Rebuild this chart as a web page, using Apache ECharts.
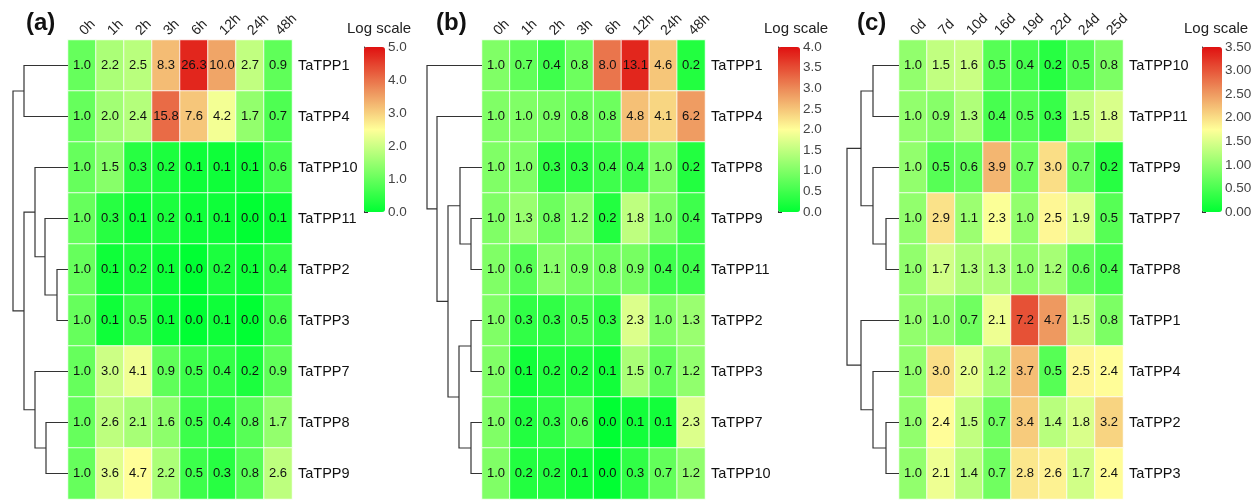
<!DOCTYPE html>
<html>
<head>
<meta charset="utf-8">
<script src="https://cdn.jsdelivr.net/npm/echarts@6/dist/echarts.min.js"></script>
<style>
  html, body { margin: 0; background: #fff; }
  #main { width: 1260px; height: 500px; }
</style>
</head>
<body>
<div id="main"></div>
<script>
// column labels
const hours = ['0h', '1h', '2h', '3h', '6h', '12h', '24h', '48h'];
const days = ['0d', '7d', '10d', '16d', '19d', '22d', '24d', '25d'];

// (a)
const genesA = ['TaTPP1', 'TaTPP4', 'TaTPP10', 'TaTPP11', 'TaTPP2', 'TaTPP3', 'TaTPP7', 'TaTPP8', 'TaTPP9'];
const valuesA = [
  [1.0, 2.2, 2.5, 8.3, 26.3, 10.0, 2.7, 0.9],
  [1.0, 2.0, 2.4, 15.8, 7.6, 4.2, 1.7, 0.7],
  [1.0, 1.5, 0.3, 0.2, 0.1, 0.1, 0.1, 0.6],
  [1.0, 0.3, 0.1, 0.2, 0.1, 0.1, 0.0, 0.1],
  [1.0, 0.1, 0.2, 0.1, 0.0, 0.2, 0.1, 0.4],
  [1.0, 0.1, 0.5, 0.1, 0.0, 0.1, 0.0, 0.6],
  [1.0, 3.0, 4.1, 0.9, 0.5, 0.4, 0.2, 0.9],
  [1.0, 2.6, 2.1, 1.6, 0.5, 0.4, 0.8, 1.7],
  [1.0, 3.6, 4.7, 2.2, 0.5, 0.3, 0.8, 2.6]
];
// merges: [left, right, height]; strings are genes, numbers point at earlier merges
const treeA = [
  ['TaTPP2', 'TaTPP3', 11],
  ['TaTPP11', 0, 23],
  ['TaTPP10', 1, 33],
  ['TaTPP8', 'TaTPP9', 22],
  ['TaTPP7', 3, 33],
  ['TaTPP1', 'TaTPP4', 44],
  [2, 4, 44],
  [5, 6, 55]
];

// (b)
const genesB = ['TaTPP1', 'TaTPP4', 'TaTPP8', 'TaTPP9', 'TaTPP11', 'TaTPP2', 'TaTPP3', 'TaTPP7', 'TaTPP10'];
const valuesB = [
  [1.0, 0.7, 0.4, 0.8, 8.0, 13.1, 4.6, 0.2],
  [1.0, 1.0, 0.9, 0.8, 0.8, 4.8, 4.1, 6.2],
  [1.0, 1.0, 0.3, 0.3, 0.4, 0.4, 1.0, 0.2],
  [1.0, 1.3, 0.8, 1.2, 0.2, 1.8, 1.0, 0.4],
  [1.0, 0.6, 1.1, 0.9, 0.8, 0.9, 0.4, 0.4],
  [1.0, 0.3, 0.3, 0.5, 0.3, 2.3, 1.0, 1.3],
  [1.0, 0.1, 0.2, 0.2, 0.1, 1.5, 0.7, 1.2],
  [1.0, 0.2, 0.3, 0.6, 0.0, 0.1, 0.1, 2.3],
  [1.0, 0.2, 0.2, 0.1, 0.0, 0.3, 0.7, 1.2]
];
const treeB = [
  ['TaTPP9', 'TaTPP11', 11],
  ['TaTPP8', 0, 22],
  ['TaTPP2', 'TaTPP3', 11],
  ['TaTPP7', 'TaTPP10', 11],
  [2, 3, 23],
  [1, 4, 34],
  ['TaTPP4', 5, 45],
  ['TaTPP1', 6, 55]
];

// (c)
const genesC = ['TaTPP10', 'TaTPP11', 'TaTPP9', 'TaTPP7', 'TaTPP8', 'TaTPP1', 'TaTPP4', 'TaTPP2', 'TaTPP3'];
const valuesC = [
  [1.0, 1.5, 1.6, 0.5, 0.4, 0.2, 0.5, 0.8],
  [1.0, 0.9, 1.3, 0.4, 0.5, 0.3, 1.5, 1.8],
  [1.0, 0.5, 0.6, 3.9, 0.7, 3.0, 0.7, 0.2],
  [1.0, 2.9, 1.1, 2.3, 1.0, 2.5, 1.9, 0.5],
  [1.0, 1.7, 1.3, 1.3, 1.0, 1.2, 0.6, 0.4],
  [1.0, 1.0, 0.7, 2.1, 7.2, 4.7, 1.5, 0.8],
  [1.0, 3.0, 2.0, 1.2, 3.7, 0.5, 2.5, 2.4],
  [1.0, 2.4, 1.5, 0.7, 3.4, 1.4, 1.8, 3.2],
  [1.0, 2.1, 1.4, 0.7, 2.8, 2.6, 1.7, 2.4]
];
const treeC = [
  ['TaTPP10', 'TaTPP11', 26],
  ['TaTPP7', 'TaTPP8', 13],
  ['TaTPP9', 1, 26],
  [0, 2, 38],
  ['TaTPP2', 'TaTPP3', 13],
  ['TaTPP4', 4, 26],
  ['TaTPP1', 5, 38],
  [3, 6, 52]
];

const palette = ['#00ff33', '#80ff66', '#ffff99', '#ec8a58', '#e01010'];
const font = '"Liberation Sans", Arial, sans-serif';

const panels = [
  { tag: '(a)', cols: hours, genes: genesA, values: valuesA, tree: treeA, max: 5, step: 1, digits: 1,
    heatLeft: 68, heatWidth: 224, dendroLeft: 13, barLeft: 364, barWidth: 21, tagLeft: 26, titleLeft: 347 },
  { tag: '(b)', cols: hours, genes: genesB, values: valuesB, tree: treeB, max: 4, step: 0.5, digits: 1,
    heatLeft: 482, heatWidth: 223, dendroLeft: 427, barLeft: 778, barWidth: 22, tagLeft: 436, titleLeft: 764 },
  { tag: '(c)', cols: days, genes: genesC, values: valuesC, tree: treeC, max: 3.5, step: 0.5, digits: 2,
    heatLeft: 899, heatWidth: 224, dendroLeft: 847, barLeft: 1202, barWidth: 20, tagLeft: 857, titleLeft: 1184 }
];

const grid = [], xAxis = [], yAxis = [], series = [], visualMap = [], title = [];

function treeLines(p) {
  const nodes = [];
  const pos = c => typeof c === 'number' ? nodes[c] : { y: p.genes.indexOf(c), h: 0 };
  const lines = [];
  p.tree.forEach(([a, b, h]) => {
    const A = pos(a), B = pos(b);
    lines.push({ coords: [[A.h, A.y], [h, A.y], [h, B.y], [B.h, B.y]] });
    nodes.push({ y: (A.y + B.y) / 2, h: h });
  });
  return lines;
}

panels.forEach(p => {
  // heatmap
  let gi = grid.length;
  grid.push({ left: p.heatLeft, top: 40, width: p.heatWidth, height: 459 });
  xAxis.push({
    gridIndex: gi, type: 'category', data: p.cols, position: 'top',
    axisLine: { show: false }, axisTick: { show: false }, splitLine: { show: false },
    axisLabel: { rotate: -45, align: 'left', verticalAlign: 'middle', fontSize: 14, color: '#222',
      margin: 7, fontFamily: font }
  });
  yAxis.push({
    gridIndex: gi, type: 'category', data: p.genes, inverse: true, position: 'right',
    axisLine: { show: false }, axisTick: { show: false }, splitLine: { show: false },
    axisLabel: { fontSize: 14.5, color: '#111', margin: 6, fontFamily: font }
  });
  const cells = [];
  p.values.forEach((row, i) => row.forEach((v, j) => cells.push([j, i, Math.log2(v + 1), v])));
  visualMap.push({
    type: 'continuous', seriesIndex: series.length, dimension: 2, min: 0, max: p.max,
    calculable: false, orient: 'vertical', left: p.barLeft, top: 47, padding: 0,
    itemWidth: p.barWidth, itemHeight: 165, inRange: { color: palette }, text: null
  });
  series.push({
    type: 'heatmap', xAxisIndex: gi, yAxisIndex: gi, data: cells,
    itemStyle: { borderColor: 'rgba(255,255,255,0.85)', borderWidth: 1 },
    label: { show: true, fontSize: 13, color: '#111', fontFamily: font,
      formatter: d => d.data[3].toFixed(1) },
    emphasis: { disabled: true }
  });

  // dendrogram
  gi = grid.length;
  const rootH = p.tree[p.tree.length - 1][2];
  grid.push({ left: p.dendroLeft, top: 40, width: p.heatLeft - p.dendroLeft, height: 459 });
  xAxis.push({ gridIndex: gi, type: 'value', min: 0, max: rootH, inverse: true, show: false });
  yAxis.push({ gridIndex: gi, type: 'value', min: -0.5, max: p.genes.length - 0.5, inverse: true, show: false });
  series.push({
    type: 'lines', coordinateSystem: 'cartesian2d', xAxisIndex: gi, yAxisIndex: gi,
    polyline: true, silent: true, data: treeLines(p),
    lineStyle: { color: '#333', width: 1.2, opacity: 1 }
  });

  // colour bar axis
  gi = grid.length;
  grid.push({ left: p.barLeft, top: 47, width: p.barWidth, height: 165 });
  xAxis.push({ gridIndex: gi, type: 'value', show: false });
  yAxis.push({
    gridIndex: gi, type: 'value', min: 0, max: p.max, interval: p.step, position: 'right',
    axisLine: { show: true, lineStyle: { color: '#333', width: 1 } },
    axisTick: { show: true, length: 4, lineStyle: { color: '#333' } },
    splitLine: { show: false },
    axisLabel: { fontSize: 13.5, color: '#444', margin: 3, fontFamily: font,
      formatter: v => v.toFixed(p.digits) }
  });

  title.push({ text: p.tag, left: p.tagLeft, top: 11, padding: 0,
    textStyle: { fontSize: 24, fontWeight: 'bold', color: '#111', fontFamily: font } });
  title.push({ text: 'Log scale', left: p.titleLeft, top: 21, padding: 0,
    textStyle: { fontSize: 15, fontWeight: 'normal', color: '#222', fontFamily: font } });
});

const chart = echarts.init(document.getElementById('main'));
chart.setOption({
  animation: false,
  backgroundColor: '#fff',
  textStyle: { fontFamily: font },
  title, grid, xAxis, yAxis, visualMap, series
});
</script>
</body>
</html>
